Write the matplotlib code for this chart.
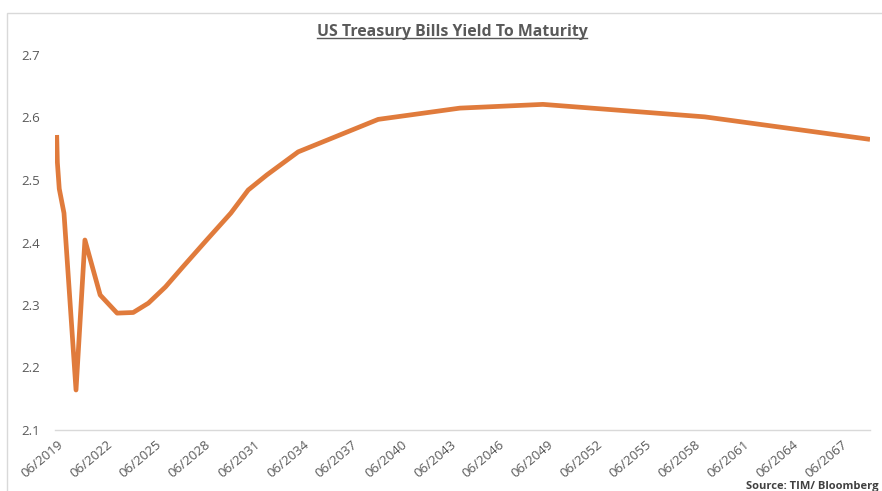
import pandas as pd
import matplotlib.pyplot as plt
from matplotlib.patches import Rectangle
from matplotlib.lines import Line2D

# yield curve points (maturity date, yield %)
maturities = ['2019-05-05', '2019-05-20', '2019-07-01', '2019-10-15', '2020-07-10',
              '2021-01-25', '2022-01-01', '2023-01-15', '2024-01-10', '2024-12-15',
              '2026-01-01', '2027-01-25', '2028-07-10', '2030-01-01', '2031-01-25',
              '2032-03-15', '2034-02-15', '2039-01-10', '2044-01-10', '2049-02-10',
              '2059-01-10', '2069-02-20']
yields = [2.572, 2.528, 2.486, 2.447, 2.164,
          2.404, 2.316, 2.287, 2.288, 2.303,
          2.329, 2.361, 2.404, 2.447, 2.484,
          2.508, 2.545, 2.597, 2.615, 2.621,
          2.601, 2.565]

tick_dates = ['%d-06-01' % y for y in range(2019, 2068, 3)]
tick_labels = ['06/%d' % y for y in range(2019, 2068, 3)]
y_ticks = [2.1, 2.2, 2.3, 2.4, 2.5, 2.6, 2.7]

grey = '#595959'
plt.rcParams['font.family'] = ['Open Sans', 'DejaVu Sans']

fig = plt.figure(figsize=(8.82, 4.91), dpi=100)

# chart area border
fig.patches.append(Rectangle((7 / 882, -0.1), 1.2, 1 - 13 / 491 + 0.1,
                             transform=fig.transFigure, fill=False,
                             edgecolor='#D9D9D9', linewidth=1.0))

ax = fig.add_axes([55 / 882, 1 - 430 / 491, 815 / 882, 375 / 491])
x = pd.to_datetime(maturities)
ax.plot(x, yields, color='#E07B3C', linewidth=3.4,
        solid_joinstyle='round', solid_capstyle='butt')

ax.set_ylim(2.1, 2.7)
ax.set_yticks(y_ticks)
ax.set_yticklabels(['%.1f' % v for v in y_ticks])
ax.set_xlim(pd.Timestamp('2019-03-28'), pd.Timestamp('2069-02-20'))
ax.set_xticks(pd.to_datetime(tick_dates))
ax.set_xticklabels(tick_labels, rotation=40, ha='right', va='top',
                   rotation_mode='anchor')

for side in ['top', 'right', 'left']:
    ax.spines[side].set_visible(False)
ax.spines['bottom'].set_color('#D9D9D9')
ax.spines['bottom'].set_linewidth(1.0)
ax.tick_params(axis='both', length=0, colors=grey, labelsize=9.5)
ax.tick_params(axis='y', pad=11)
ax.tick_params(axis='x', pad=6)

title = fig.text(452 / 882, 1 - 32 / 491, 'US Treasury Bills Yield To Maturity',
                 ha='center', va='center', fontsize=11.4, fontweight='bold',
                 color=grey)
fig.text(746 / 882, 1 - 486 / 491, 'Source: TIM/ Bloomberg', ha='left',
         va='center', fontsize=8, fontweight='bold', color='#404040')

# underline the title
fig.canvas.draw()
bb = title.get_window_extent().transformed(fig.transFigure.inverted())
fig.add_artist(Line2D([bb.x0, bb.x1], [bb.y0 + 0.004, bb.y0 + 0.004],
                      transform=fig.transFigure, color=grey, linewidth=1.0))

fig.savefig('out.png', dpi=100, facecolor='white')
